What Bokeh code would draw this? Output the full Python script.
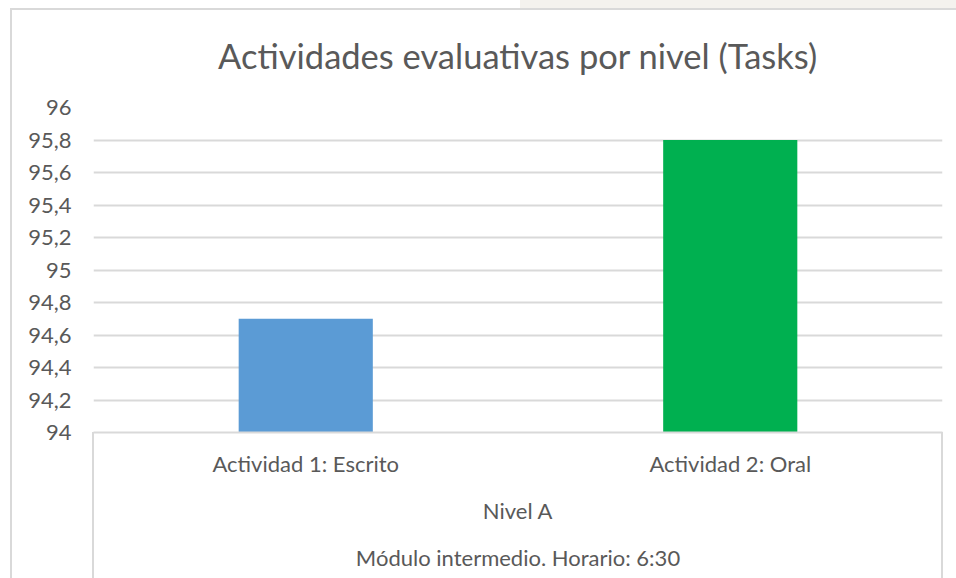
from bokeh.plotting import figure
from bokeh.models import (FactorRange, ColumnDataSource, FixedTicker, CustomJSTickFormatter,
                          CategoricalAxis)
from bokeh.embed import file_html
from bokeh.resources import INLINE

# ---- data ----
module_label = "Módulo intermedio. Horario: 6:30"
level_label = "Nivel A"
activities = ["Actividad 1: Escrito", "Actividad 2: Oral"]
scores = [94.7, 95.8]
bar_colors = ["#5B9BD5", "#00B050"]
y_ticks = [94, 94.2, 94.4, 94.6, 94.8, 95, 95.2, 95.4, 95.6, 95.8, 96]
title_text = "Actividades evaluativas por nivel (Tasks)"

FONT = "Lato"
TXT = "#595959"
GRID = "#d9d9d9"

factors = [(module_label, level_label, a) for a in activities]
src = ColumnDataSource(dict(x=factors, top=scores, color=bar_colors))

W, H = 956, 578
FL, FR, FT, FB = 93, 942, 107, 432

# decorative chart frame lines (outer chart border + category box sides) as CSS backgrounds
line = f"linear-gradient({GRID},{GRID})"
band = "linear-gradient(#f4f2ee,#f4f2ee)"
deco = {
    "background-color": "white",
    "background-image": ", ".join([line] * 4 + [band]),
    "background-size": f"2px {H}px, {W}px 2px, 2px {H - FB}px, 2px {H - FB}px, {W}px 8px",
    "background-position": f"10px 8px, 10px 8px, {FL - 1}px {FB}px, {FR - 1}px {FB}px, 520px 0px",
    "background-repeat": "no-repeat",
}

p = figure(x_range=FactorRange(*factors, range_padding=0, factor_padding=0,
                               subgroup_padding=0, group_padding=0),
           y_range=(94, 96), width=W, height=H, output_backend="svg",
           toolbar_location=None, x_axis_location=None,
           min_border_left=FL, min_border_right=W - FR,
           min_border_top=FT, min_border_bottom=H - FB,
           background_fill_color=None, border_fill_color=None, styles=deco)

p.vbar(x="x", top="top", bottom=94, width=0.316, color="color", source=src, line_color=None)

# title
p.title.text = title_text
p.title.align = "center"
p.title.text_font = FONT
p.title.text_font_size = "34.5px"
p.title.text_font_style = "normal"
p.title.text_color = TXT
p.title.standoff = 63

# y axis
p.yaxis.ticker = FixedTicker(ticks=y_ticks)
p.yaxis.formatter = CustomJSTickFormatter(code="""
    let s = tick.toFixed(1);
    if (s.endsWith('.0')) s = s.slice(0, -2);
    return s.replace('.', ',');
""")
p.yaxis.axis_line_color = None
p.yaxis.major_tick_line_color = None
p.yaxis.minor_tick_line_color = None
p.yaxis.major_tick_out = 0
p.yaxis.major_label_standoff = 22
p.yaxis.major_label_text_font = FONT
p.yaxis.major_label_text_font_size = "22px"
p.yaxis.major_label_text_color = TXT

# x (nested categorical) axis
xa = CategoricalAxis()
xa.axis_line_color = GRID
xa.axis_line_width = 2
xa.major_tick_line_color = None
xa.minor_tick_line_color = None
xa.major_tick_out = 0
xa.separator_line_color = None
xa.major_label_standoff = 17
xa.major_label_orientation = "horizontal"
xa.subgroup_label_orientation = "horizontal"
xa.group_label_orientation = "horizontal"
for pre in ["major_label_text_", "subgroup_text_", "group_text_"]:
    setattr(xa, pre + "font", FONT)
    setattr(xa, pre + "font_size", "22px")
    setattr(xa, pre + "color", TXT)
    setattr(xa, pre + "font_style", "normal")
p.add_layout(xa, "below")

# grid
p.xgrid.grid_line_color = None
p.ygrid.grid_line_color = GRID
p.ygrid.grid_line_width = 2
p.outline_line_color = None

open("out.html", "w").write(file_html(p, INLINE))
